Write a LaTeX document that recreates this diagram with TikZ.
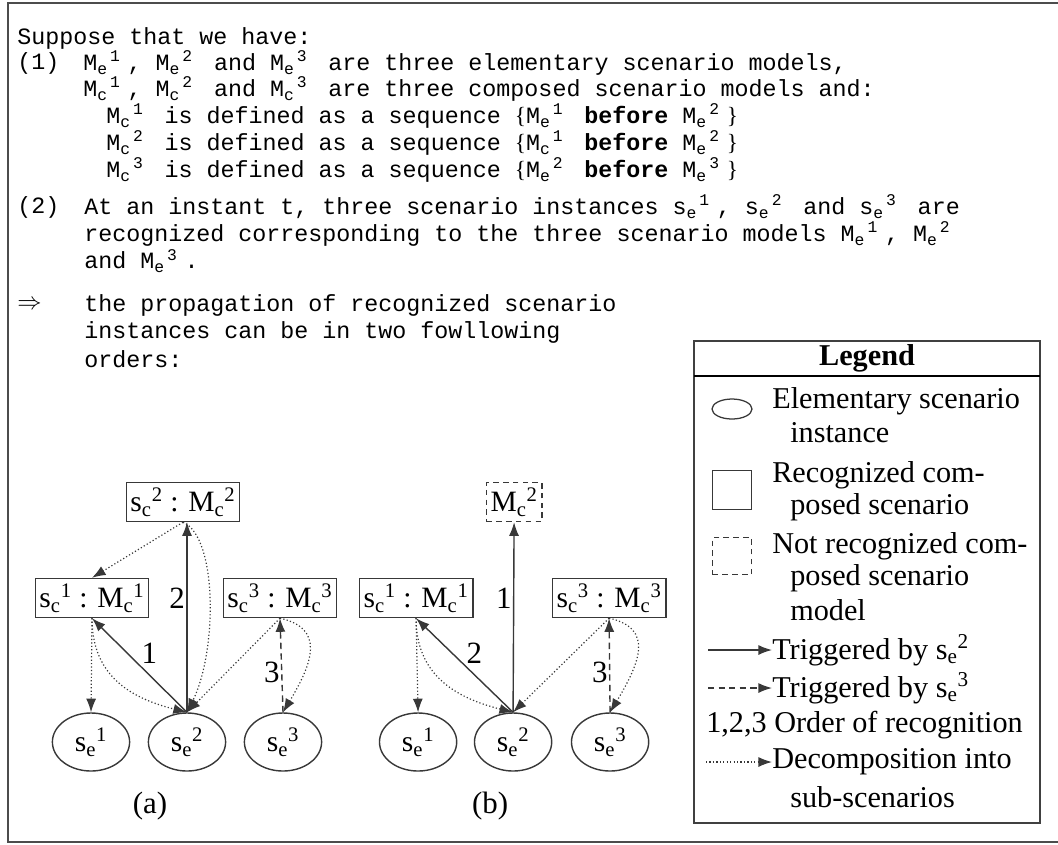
\documentclass[tikz,border=0pt]{standalone}
\usepackage{fontspec}
\setmainfont{Liberation Serif}
\setmonofont{Liberation Mono}
\usetikzlibrary{shapes.geometric,arrows.meta}

\newcommand\modE[1]{M\textsubscript{e}\textsuperscript{#1}}
\newcommand\modC[1]{M\textsubscript{c}\textsuperscript{#1}}
\newcommand\insE[1]{s\textsubscript{e}\textsuperscript{#1}}
\newcommand\insC[1]{s\textsubscript{c}\textsuperscript{#1}}
\newcommand\lo[1]{\makebox[0.55em][l]{\textsubscript{#1}}}
\newcommand\hi[1]{\makebox[0.75em][l]{\textsuperscript{#1}}}
\newcommand\codeE[1]{M\lo{e}\hi{#1}}
\newcommand\codeC[1]{M\lo{c}\hi{#1}}
\newcommand\codeS[1]{s\lo{e}\hi{#1}}
\newcommand\lbr{{\rmfamily\{}}
\newcommand\rbr{{\rmfamily\}}}

\tikzset{
  recbox/.style={draw=black!78, line width=1pt, inner sep=3pt, minimum height=0.975cm, font=\fontsize{21}{25}\selectfont},
  notrecbox/.style={recbox, dash pattern=on 4pt off 3pt},
  inst/.style={ellipse, draw=black!78, line width=1pt, minimum width=1.93cm, minimum height=1.45cm, inner sep=0pt, font=\fontsize{21}{25}\selectfont},
  trig/.style={draw=black!78, line width=1pt, -{Latex[length=3.4mm,width=2.5mm]}},
  trigdash/.style={trig, dash pattern=on 4.5pt off 3pt},
  decomp/.style={trig, line width=0.85pt, dash pattern=on 0.85pt off 1.6pt},
  numlab/.style={font=\fontsize{22}{26}\selectfont, inner sep=1pt},
  codeline/.style={anchor=west, inner sep=0pt, font=\fontsize{16.6}{20}\ttfamily},
  legline/.style={anchor=west, inner sep=0pt, font=\fontsize{21.5}{25}\selectfont},
}

\begin{document}
\begin{tikzpicture}[x=0.025cm, y=-0.025cm]

  \useasboundingbox (0,0) rectangle (1058,844);
  \draw[black!70, line width=1.1pt] (1058,3) -- (8,3) -- (8,842) -- (1058,842);

  % statement
  \node[codeline] (tsup) at (17,38) {Suppose that we have:};
  \node[codeline] (tone) at (17,63) {(1)};
  \node[codeline] (tonea) at (83,63) {\codeE1, \codeE2 and \codeE3 are three elementary scenario models,};
  \node[codeline] (toneb) at (83,89) {\codeC1, \codeC2 and \codeC3 are three composed scenario models and:};
  \node[codeline] (tonec) at (106,116) {\codeC1 is defined as a sequence \lbr\codeE1 \textbf{before} \codeE2\rbr};
  \node[codeline] (toned) at (106,143) {\codeC2 is defined as a sequence \lbr\codeC1 \textbf{before} \codeE2\rbr};
  \node[codeline] (tonee) at (106,170) {\codeC3 is defined as a sequence \lbr\codeE2 \textbf{before} \codeE3\rbr};

  \node[codeline] (ttwo) at (17,207) {(2)};
  \node[codeline] (ttwoa) at (84,207) {At an instant t, three scenario instances \codeS1, \codeS2 and \codeS3 are};
  \node[codeline] (ttwob) at (84,234) {recognized corresponding to the three scenario models \codeE1, \codeE2};
  \node[codeline] (ttwoc) at (84,261) {and \codeE3.};

  \node[codeline] (tthen) at (17,305) {$\Rightarrow$};
  \node[codeline] (tthena) at (84,305) {the propagation of recognized scenario};
  \node[codeline] (tthenb) at (84,332) {instances can be in two fowllowing};
  \node[codeline] (tthenc) at (84,359) {orders:};


  % order (a)
  \begin{scope}

    \node[recbox] (sc2a) at (183,502) {\insC2 : \modC2};
    \node[recbox] (sc1a) at (92,598) {\insC1 : \modC1};
    \node[recbox] (sc3a) at (280,598) {\insC3 : \modC3};

    \node[inst] (se1a) at (91,742) {\insE1};
    \node[inst] (se2a) at (187,742) {\insE2};
    \node[inst] (se3a) at (283,742) {\insE3};

    \draw[trig] (se2a.north) -- (sc1a.south) node[numlab, pos=0.5, above right] (n1a) {1};
    \draw[trig] (se2a.north) -- (se2a.north |- sc2a.south) node[numlab, pos=0.6, left] (n2a) {2};
    \draw[trigdash] (se3a.north) -- (sc3a.south) node[numlab, pos=0.42, left] (n3a) {3};

    \draw[decomp] (sc2a.south) -- (sc1a.north);
    \draw[decomp] (sc2a.south) .. controls +(35,15) and +(30,-60) .. (se2a.north);
    \draw[decomp] (sc1a.south) -- (se1a.north);
    \draw[decomp] (sc1a.south) .. controls +(0,55) and +(-60,-15) .. (se2a.north);
    \draw[decomp] (sc3a.south) -- (se2a.north);
    \draw[decomp] (sc3a.south) .. controls +(45,10) and +(30,-50) .. (se3a.north);

    \node[numlab] (capa) at (150,806) {(a)};

  \end{scope}


  % order (b)
  \begin{scope}[xshift=8.175cm]

    \node[notrecbox] (mc2b) at (187,502) {\modC2};
    \node[recbox] (sc1b) at (89,598) {\insC1 : \modC1};
    \node[recbox] (sc3b) at (282,598) {\insC3 : \modC3};

    \node[inst] (se1b) at (91,742) {\insE1};
    \node[inst] (se2b) at (186,742) {\insE2};
    \node[inst] (se3b) at (283,742) {\insE3};

    \draw[trig] (se2b.north) -- (mc2b.south) node[numlab, pos=0.6, left] (n1b) {1};
    \draw[trig] (se2b.north) -- (sc1b.south) node[numlab, pos=0.5, above right] (n2b) {2};
    \draw[trigdash] (se3b.north) -- (sc3b.south) node[numlab, pos=0.42, left] (n3b) {3};

    \draw[decomp] (sc1b.south) -- (se1b.north);
    \draw[decomp] (sc1b.south) .. controls +(0,55) and +(-60,-15) .. (se2b.north);
    \draw[decomp] (sc3b.south) -- (se2b.north);
    \draw[decomp] (sc3b.south) .. controls +(45,10) and +(30,-50) .. (se3b.north);

    \node[numlab] (capb) at (163,806) {(b)};

  \end{scope}


  % legend
  \draw[black!75, line width=1pt] (694,341) rectangle (1040,823);
  \draw[black, line width=1pt] (694,376) -- (1040,376);
  \node[font=\fontsize{21.5}{25}\selectfont\bfseries] (leghead) at (867,358) {Legend};

  \node[ellipse, draw=black!78, line width=0.9pt, minimum width=1cm, minimum height=0.5cm, inner sep=0pt] (lgell) at (732,409) {};
  \node[legline] (lgela) at (772,401) {Elementary scenario};
  \node[legline] (lgelb) at (790,433) {instance};

  \node[recbox, minimum width=0.975cm, minimum height=0.975cm, inner sep=0pt] (lgrec) at (732,490) {};
  \node[legline] (lgreca) at (772,475) {Recognized com-};
  \node[legline] (lgrecb) at (790,507) {posed scenario};

  \node[notrecbox, minimum width=0.975cm, minimum height=0.925cm, inner sep=0pt] (lgnrec) at (732,556) {};
  \node[legline] (lgnreca) at (772,546) {Not recognized com-};
  \node[legline] (lgnrecb) at (790,578) {posed scenario};
  \node[legline] (lgnrecc) at (790,610) {model};

  \node[legline] (lgtrig) at (772,650) {Triggered by \insE2};
  \coordinate (lgtrigs) at (708,650);
  \draw[trig] (lgtrigs) -- (lgtrig.west);

  \node[legline] (lgdash) at (772,688) {Triggered by \insE3};
  \coordinate (lgdashs) at (708,688);
  \draw[trigdash] (lgdashs) -- (lgdash.west);

  \node[legline] (lgord) at (706,725) {1,2,3 Order of recognition};

  \node[legline] (lgdeca) at (772,762) {Decomposition into};
  \node[legline] (lgdecb) at (790,797) {sub-scenarios};
  \coordinate (lgdecs) at (706,762);
  \draw[decomp] (lgdecs) -- (lgdeca.west);

\end{tikzpicture}
\end{document}
